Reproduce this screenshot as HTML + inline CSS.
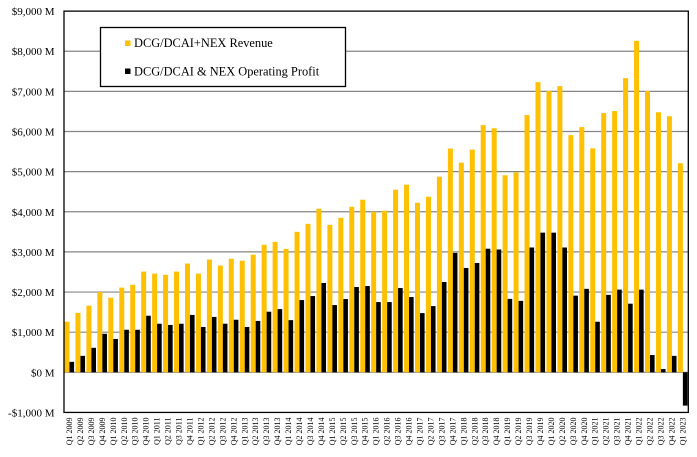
<!DOCTYPE html>
<html>
<head>
<meta charset="utf-8">
<style>
html,body{margin:0;padding:0;background:#fff;}
svg{display:block;}
text{font-family:"Liberation Serif",serif;fill:#000;}
</style>
</head>
<body>
<svg width="697" height="457" viewBox="0 0 697 457" xmlns="http://www.w3.org/2000/svg">
<rect width="697" height="457" fill="#fff"/>
<!-- gridlines -->
<g stroke="#868686" stroke-width="1.2">
<line x1="64" y1="51.26" x2="688.3" y2="51.26"/>
<line x1="64" y1="91.39" x2="688.3" y2="91.39"/>
<line x1="64" y1="131.52" x2="688.3" y2="131.52"/>
<line x1="64" y1="171.65" x2="688.3" y2="171.65"/>
<line x1="64" y1="211.78" x2="688.3" y2="211.78"/>
<line x1="64" y1="251.91" x2="688.3" y2="251.91"/>
<line x1="64" y1="292.04" x2="688.3" y2="292.04"/>
<line x1="64" y1="332.17" x2="688.3" y2="332.17"/>
<line x1="64" y1="372.3" x2="688.3" y2="372.3"/>
</g>
<!-- revenue bars -->
<g fill="#FFC000">
<rect x="64.5" y="321.74" width="5" height="50.56"/>
<rect x="75.45" y="312.91" width="5" height="59.39"/>
<rect x="86.41" y="305.68" width="5" height="66.62"/>
<rect x="97.36" y="292.04" width="5" height="80.26"/>
<rect x="108.31" y="297.66" width="5" height="74.64"/>
<rect x="119.27" y="287.63" width="5" height="84.67"/>
<rect x="130.22" y="284.82" width="5" height="87.48"/>
<rect x="141.17" y="271.57" width="5" height="100.73"/>
<rect x="152.12" y="273.58" width="5" height="98.72"/>
<rect x="163.08" y="274.78" width="5" height="97.52"/>
<rect x="174.03" y="271.57" width="5" height="100.73"/>
<rect x="184.98" y="263.55" width="5" height="108.75"/>
<rect x="195.94" y="273.58" width="5" height="98.72"/>
<rect x="206.89" y="259.53" width="5" height="112.77"/>
<rect x="217.84" y="265.55" width="5" height="106.75"/>
<rect x="228.8" y="258.73" width="5" height="113.57"/>
<rect x="239.75" y="260.74" width="5" height="111.56"/>
<rect x="250.7" y="254.72" width="5" height="117.58"/>
<rect x="261.65" y="244.69" width="5" height="127.61"/>
<rect x="272.61" y="241.88" width="5" height="130.42"/>
<rect x="283.56" y="248.9" width="5" height="123.4"/>
<rect x="294.51" y="231.84" width="5" height="140.46"/>
<rect x="305.47" y="223.82" width="5" height="148.48"/>
<rect x="316.42" y="208.77" width="5" height="163.53"/>
<rect x="327.37" y="224.82" width="5" height="147.48"/>
<rect x="338.33" y="217.8" width="5" height="154.5"/>
<rect x="349.28" y="206.76" width="5" height="165.54"/>
<rect x="360.23" y="199.74" width="5" height="172.56"/>
<rect x="371.18" y="211.78" width="5" height="160.52"/>
<rect x="382.14" y="210.78" width="5" height="161.52"/>
<rect x="393.09" y="189.71" width="5" height="182.59"/>
<rect x="404.04" y="184.69" width="5" height="187.61"/>
<rect x="415" y="202.75" width="5" height="169.55"/>
<rect x="425.95" y="196.73" width="5" height="175.57"/>
<rect x="436.9" y="176.67" width="5" height="195.63"/>
<rect x="447.86" y="148.58" width="5" height="223.72"/>
<rect x="458.81" y="162.62" width="5" height="209.68"/>
<rect x="469.76" y="149.58" width="5" height="222.72"/>
<rect x="480.71" y="125.1" width="5" height="247.2"/>
<rect x="491.67" y="128.31" width="5" height="243.99"/>
<rect x="502.62" y="175.26" width="5" height="197.04"/>
<rect x="513.57" y="172.45" width="5" height="199.85"/>
<rect x="524.53" y="115.07" width="5" height="257.23"/>
<rect x="535.48" y="82.16" width="5" height="290.14"/>
<rect x="546.43" y="90.99" width="5" height="281.31"/>
<rect x="557.39" y="86.17" width="5" height="286.13"/>
<rect x="568.34" y="135.13" width="5" height="237.17"/>
<rect x="579.29" y="127.11" width="5" height="245.19"/>
<rect x="590.24" y="148.37" width="5" height="223.93"/>
<rect x="601.2" y="113.06" width="5" height="259.24"/>
<rect x="612.15" y="111.05" width="5" height="261.25"/>
<rect x="623.1" y="78.15" width="5" height="294.15"/>
<rect x="634.06" y="40.83" width="5" height="331.47"/>
<rect x="645.01" y="90.99" width="5" height="281.31"/>
<rect x="655.96" y="112.26" width="5" height="260.04"/>
<rect x="666.92" y="116.27" width="5" height="256.03"/>
<rect x="677.87" y="163.22" width="5" height="209.08"/>
</g>
<!-- profit bars -->
<g fill="#000">
<rect x="69.5" y="361.87" width="4.6" height="10.43"/>
<rect x="80.45" y="355.85" width="4.6" height="16.45"/>
<rect x="91.41" y="347.82" width="4.6" height="24.48"/>
<rect x="102.36" y="333.78" width="4.6" height="38.52"/>
<rect x="113.31" y="338.99" width="4.6" height="33.31"/>
<rect x="124.27" y="329.76" width="4.6" height="42.54"/>
<rect x="135.22" y="329.76" width="4.6" height="42.54"/>
<rect x="146.17" y="315.72" width="4.6" height="56.58"/>
<rect x="157.12" y="323.74" width="4.6" height="48.56"/>
<rect x="168.08" y="324.95" width="4.6" height="47.35"/>
<rect x="179.03" y="323.74" width="4.6" height="48.56"/>
<rect x="189.98" y="314.91" width="4.6" height="57.39"/>
<rect x="200.94" y="326.95" width="4.6" height="45.35"/>
<rect x="211.89" y="316.92" width="4.6" height="55.38"/>
<rect x="222.84" y="323.74" width="4.6" height="48.56"/>
<rect x="233.8" y="319.73" width="4.6" height="52.57"/>
<rect x="244.75" y="326.95" width="4.6" height="45.35"/>
<rect x="255.7" y="320.93" width="4.6" height="51.37"/>
<rect x="266.65" y="311.7" width="4.6" height="60.6"/>
<rect x="277.61" y="309.1" width="4.6" height="63.2"/>
<rect x="288.56" y="320.13" width="4.6" height="52.17"/>
<rect x="299.51" y="300.07" width="4.6" height="72.23"/>
<rect x="310.47" y="296.05" width="4.6" height="76.25"/>
<rect x="321.42" y="283.01" width="4.6" height="89.29"/>
<rect x="332.37" y="305.08" width="4.6" height="67.22"/>
<rect x="343.33" y="299.06" width="4.6" height="73.24"/>
<rect x="354.28" y="287.02" width="4.6" height="85.28"/>
<rect x="365.23" y="286.02" width="4.6" height="86.28"/>
<rect x="376.18" y="302.07" width="4.6" height="70.23"/>
<rect x="387.14" y="302.07" width="4.6" height="70.23"/>
<rect x="398.09" y="288.03" width="4.6" height="84.27"/>
<rect x="409.04" y="297.06" width="4.6" height="75.24"/>
<rect x="420" y="313.11" width="4.6" height="59.19"/>
<rect x="430.95" y="306.09" width="4.6" height="66.21"/>
<rect x="441.9" y="282.01" width="4.6" height="90.29"/>
<rect x="452.86" y="252.91" width="4.6" height="119.39"/>
<rect x="463.81" y="267.96" width="4.6" height="104.34"/>
<rect x="474.76" y="262.95" width="4.6" height="109.35"/>
<rect x="485.71" y="248.7" width="4.6" height="123.6"/>
<rect x="496.67" y="249.5" width="4.6" height="122.8"/>
<rect x="507.62" y="298.86" width="4.6" height="73.44"/>
<rect x="518.57" y="300.87" width="4.6" height="71.43"/>
<rect x="529.53" y="247.5" width="4.6" height="124.8"/>
<rect x="540.48" y="232.65" width="4.6" height="139.65"/>
<rect x="551.43" y="232.65" width="4.6" height="139.65"/>
<rect x="562.39" y="247.5" width="4.6" height="124.8"/>
<rect x="573.34" y="295.65" width="4.6" height="76.65"/>
<rect x="584.29" y="288.83" width="4.6" height="83.47"/>
<rect x="595.24" y="321.74" width="4.6" height="50.56"/>
<rect x="606.2" y="294.85" width="4.6" height="77.45"/>
<rect x="617.15" y="289.63" width="4.6" height="82.67"/>
<rect x="628.1" y="303.68" width="4.6" height="68.62"/>
<rect x="639.06" y="289.63" width="4.6" height="82.67"/>
<rect x="650.01" y="355.04" width="4.6" height="17.26"/>
<rect x="660.96" y="369.09" width="4.6" height="3.21"/>
<rect x="671.92" y="355.85" width="4.6" height="16.45"/>
<rect x="682.87" y="372.3" width="4.6" height="33.31"/>
</g>
<!-- plot border -->
<rect x="64" y="11.13" width="624.3" height="401.3" fill="none" stroke="#000" stroke-width="1.3"/>
<!-- y labels -->
<g font-size="11" text-anchor="end">
<text x="54.5" y="15.1">$9,000 M</text>
<text x="54.5" y="55.2">$8,000 M</text>
<text x="54.5" y="95.4">$7,000 M</text>
<text x="54.5" y="135.5">$6,000 M</text>
<text x="54.5" y="175.6">$5,000 M</text>
<text x="54.5" y="215.8">$4,000 M</text>
<text x="54.5" y="255.9">$3,000 M</text>
<text x="54.5" y="296">$2,000 M</text>
<text x="54.5" y="336.2">$1,000 M</text>
<text x="54.5" y="376.3">$0 M</text>
<text x="54.5" y="416.4">-$1,000 M</text>
</g>
<!-- legend -->
<rect x="100.5" y="27.5" width="245" height="59" fill="#fff" stroke="#000" stroke-width="1.3"/>
<rect x="125" y="40.5" width="5.5" height="5.5" fill="#FFC000"/>
<rect x="125" y="68.5" width="5.5" height="5.5" fill="#000"/>
<text x="134" y="47" font-size="12.4">DCG/DCAI+NEX Revenue</text>
<text x="134" y="75.3" font-size="12.4">DCG/DCAI &amp; NEX Operating Profit</text>
<!-- x labels -->
<g font-size="8" text-anchor="end">
<text transform="translate(72,417.5) rotate(-90)">Q1 2009</text>
<text transform="translate(82.95,417.5) rotate(-90)">Q2 2009</text>
<text transform="translate(93.91,417.5) rotate(-90)">Q3 2009</text>
<text transform="translate(104.86,417.5) rotate(-90)">Q4 2009</text>
<text transform="translate(115.81,417.5) rotate(-90)">Q1 2010</text>
<text transform="translate(126.77,417.5) rotate(-90)">Q2 2010</text>
<text transform="translate(137.72,417.5) rotate(-90)">Q3 2010</text>
<text transform="translate(148.67,417.5) rotate(-90)">Q4 2010</text>
<text transform="translate(159.62,417.5) rotate(-90)">Q1 2011</text>
<text transform="translate(170.58,417.5) rotate(-90)">Q2 2011</text>
<text transform="translate(181.53,417.5) rotate(-90)">Q3 2011</text>
<text transform="translate(192.48,417.5) rotate(-90)">Q4 2011</text>
<text transform="translate(203.44,417.5) rotate(-90)">Q1 2012</text>
<text transform="translate(214.39,417.5) rotate(-90)">Q2 2012</text>
<text transform="translate(225.34,417.5) rotate(-90)">Q3 2012</text>
<text transform="translate(236.3,417.5) rotate(-90)">Q4 2012</text>
<text transform="translate(247.25,417.5) rotate(-90)">Q1 2013</text>
<text transform="translate(258.2,417.5) rotate(-90)">Q2 2013</text>
<text transform="translate(269.15,417.5) rotate(-90)">Q3 2013</text>
<text transform="translate(280.11,417.5) rotate(-90)">Q4 2013</text>
<text transform="translate(291.06,417.5) rotate(-90)">Q1 2014</text>
<text transform="translate(302.01,417.5) rotate(-90)">Q2 2014</text>
<text transform="translate(312.97,417.5) rotate(-90)">Q3 2014</text>
<text transform="translate(323.92,417.5) rotate(-90)">Q4 2014</text>
<text transform="translate(334.87,417.5) rotate(-90)">Q1 2015</text>
<text transform="translate(345.83,417.5) rotate(-90)">Q2 2015</text>
<text transform="translate(356.78,417.5) rotate(-90)">Q3 2015</text>
<text transform="translate(367.73,417.5) rotate(-90)">Q4 2015</text>
<text transform="translate(378.68,417.5) rotate(-90)">Q1 2016</text>
<text transform="translate(389.64,417.5) rotate(-90)">Q2 2016</text>
<text transform="translate(400.59,417.5) rotate(-90)">Q3 2016</text>
<text transform="translate(411.54,417.5) rotate(-90)">Q4 2016</text>
<text transform="translate(422.5,417.5) rotate(-90)">Q1 2017</text>
<text transform="translate(433.45,417.5) rotate(-90)">Q2 2017</text>
<text transform="translate(444.4,417.5) rotate(-90)">Q3 2017</text>
<text transform="translate(455.36,417.5) rotate(-90)">Q4 2017</text>
<text transform="translate(466.31,417.5) rotate(-90)">Q1 2018</text>
<text transform="translate(477.26,417.5) rotate(-90)">Q2 2018</text>
<text transform="translate(488.21,417.5) rotate(-90)">Q3 2018</text>
<text transform="translate(499.17,417.5) rotate(-90)">Q4 2018</text>
<text transform="translate(510.12,417.5) rotate(-90)">Q1 2019</text>
<text transform="translate(521.07,417.5) rotate(-90)">Q2 2019</text>
<text transform="translate(532.03,417.5) rotate(-90)">Q3 2019</text>
<text transform="translate(542.98,417.5) rotate(-90)">Q4 2019</text>
<text transform="translate(553.93,417.5) rotate(-90)">Q1 2020</text>
<text transform="translate(564.89,417.5) rotate(-90)">Q2 2020</text>
<text transform="translate(575.84,417.5) rotate(-90)">Q3 2020</text>
<text transform="translate(586.79,417.5) rotate(-90)">Q4 2020</text>
<text transform="translate(597.74,417.5) rotate(-90)">Q1 2021</text>
<text transform="translate(608.7,417.5) rotate(-90)">Q2 2021</text>
<text transform="translate(619.65,417.5) rotate(-90)">Q3 2021</text>
<text transform="translate(630.6,417.5) rotate(-90)">Q4 2021</text>
<text transform="translate(641.56,417.5) rotate(-90)">Q1 2022</text>
<text transform="translate(652.51,417.5) rotate(-90)">Q2 2022</text>
<text transform="translate(663.46,417.5) rotate(-90)">Q3 2022</text>
<text transform="translate(674.42,417.5) rotate(-90)">Q4 2022</text>
<text transform="translate(685.37,417.5) rotate(-90)">Q1 2023</text>
</g>
</svg>
</body>
</html>
